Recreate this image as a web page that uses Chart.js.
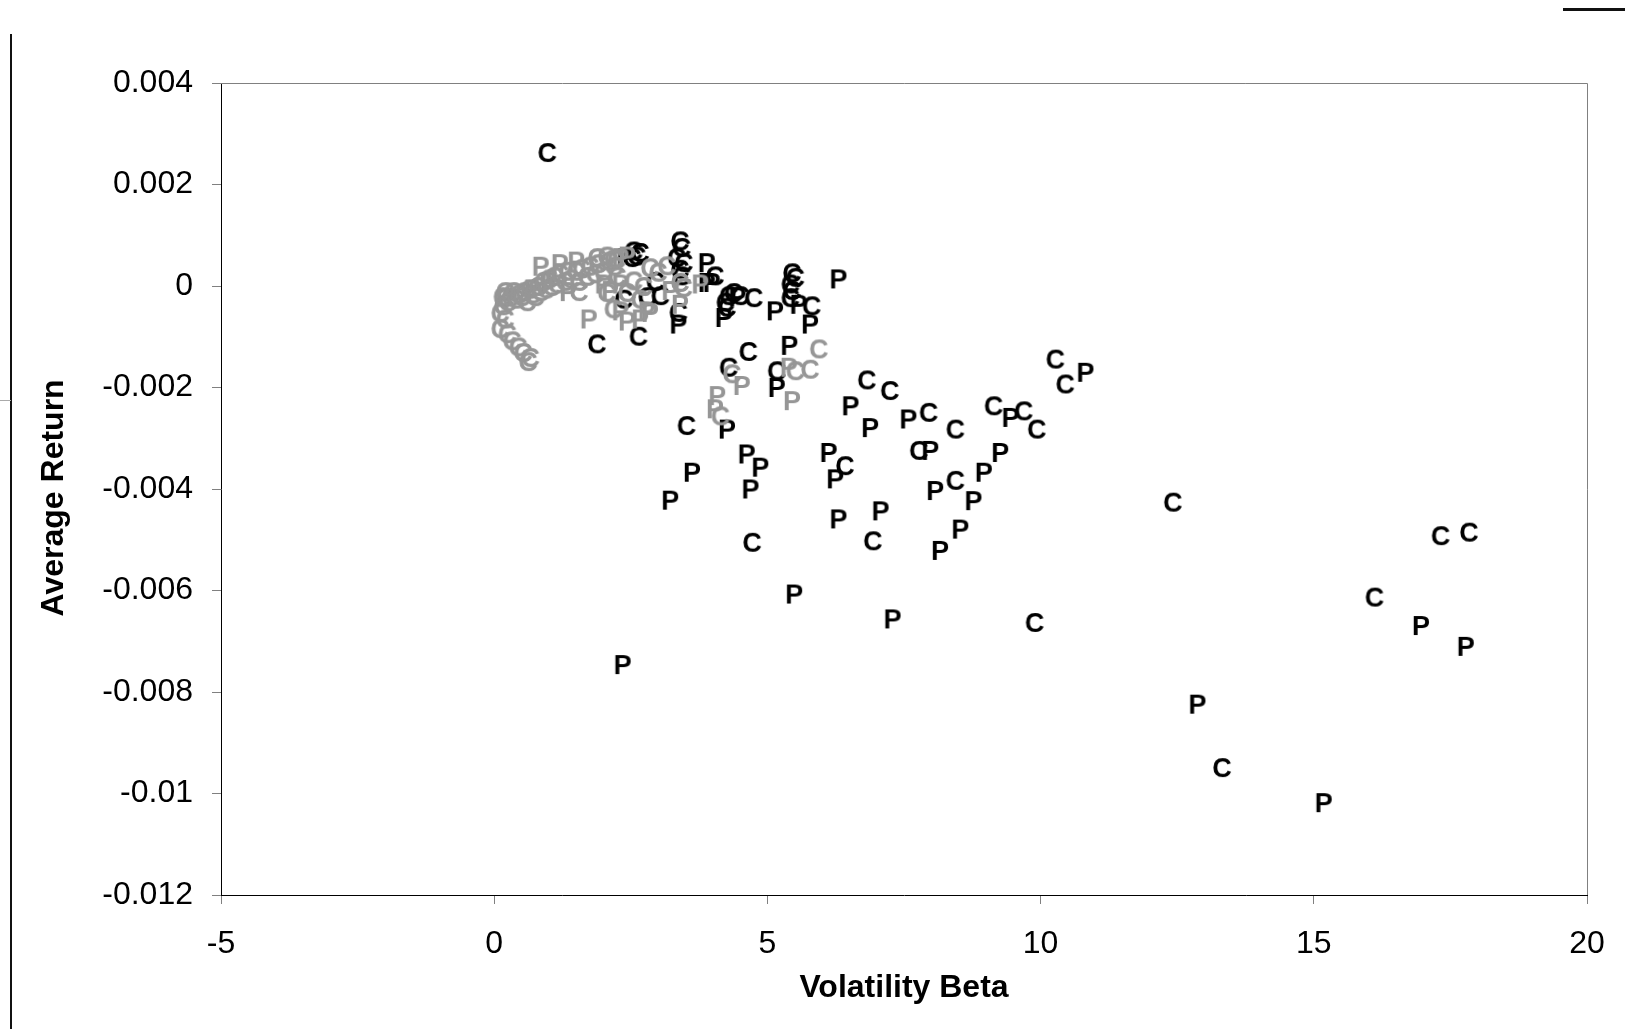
<!DOCTYPE html>
<html lang="en">
<head>
  <meta charset="UTF-8" />
  <title>Average Return vs Volatility Beta</title>
  <style>
    body { margin: 0; background: #fff; }
    #wrap { position: relative; width: 1628px; height: 1029px; overflow: hidden; background: #fff; }
    #chart { position: absolute; left: 0; top: 0; }
    .rule-left { position: absolute; left: 10px; top: 34px; width: 2px; height: 995px; background: #111; }
    .rule-stub { position: absolute; left: 0; top: 400px; width: 11px; height: 1px; background: #aaa; }
    .rule-top { position: absolute; left: 1563px; top: 8px; width: 62px; height: 3px; background: #111; }
  </style>
  <script src="https://cdn.jsdelivr.net/npm/chart.js"></script>
</head>
<body>
  <div id="wrap">
    <canvas id="chart" width="1628" height="1029"></canvas>
    <div class="rule-left"></div>
    <div class="rule-stub"></div>
    <div class="rule-top"></div>
  </div>
  <script>
    // axis ticks
    const xTicks = [-5, 0, 5, 10, 15, 20];
    const xTickLabels = ['-5', '0', '5', '10', '15', '20'];
    const yTicks = [-0.012, -0.01, -0.008, -0.006, -0.004, -0.002, 0, 0.002, 0.004];
    const yTickLabels = ['-0.012', '-0.01', '-0.008', '-0.006', '-0.004', '-0.002', '0', '0.002', '0.004'];

    // [volatility beta, average return]
    const callsBlack = [
      [0.97, 0.00264], [1.88, -0.00113], [2.64, -0.00098],
      [2.55, 0.0007], [2.61, 0.0006], [2.67, 0.00067], [2.52, 0.00057],
      [3.40, 0.0009], [3.43, 0.00077], [3.34, 0.00057], [3.47, 0.00047], [3.40, 0.00034], [3.43, 0.00021],
      [3.04, -0.00018], [2.37, -0.00025], [2.8, -0.0002], [2.95, 0.0001],
      [4.04, 0.00021], [3.37, -0.00051],
      [4.29, -0.00018], [4.38, -0.00012], [4.23, -0.00031], [4.26, -0.00041],
      [4.50, -0.00018], [4.75, -0.00022],
      [5.45, 0.00027], [5.51, 0.00018], [5.42, 0.00005], [5.45, -0.00008], [5.42, -0.00022],
      [5.81, -0.00038], [4.65, -0.00128], [4.29, -0.00159], [5.17, -0.00166],
      [3.52, -0.00274], [4.72, -0.00504],
      [6.82, -0.00184], [7.24, -0.00205], [7.95, -0.00248], [8.44, -0.00281], [7.77, -0.00323],
      [6.42, -0.00353], [6.93, -0.00501], [8.44, -0.00382], [9.14, -0.00235], [9.69, -0.00245],
      [9.93, -0.00281], [10.27, -0.00143], [10.45, -0.00192], [9.89, -0.00662],
      [12.42, -0.00425], [13.32, -0.00948], [16.11, -0.00612], [17.32, -0.00491], [17.84, -0.00484]
    ];
    const putsBlack = [
      [2.40, 0.00057], [3.89, 0.00047], [3.89, 0.00008], [3.98, 0.00008], [3.37, -0.00074],
      [4.20, -0.00061], [4.45, -0.0002], [5.14, -0.00048], [5.57, -0.00035], [5.78, -0.00074],
      [6.30, 0.00015], [5.40, -0.00116], [5.17, -0.00199], [4.26, -0.00281], [3.62, -0.00366],
      [3.22, -0.00421], [4.62, -0.0033], [4.87, -0.00356], [4.69, -0.00399], [6.52, -0.00235],
      [6.88, -0.00278], [7.58, -0.00261], [7.98, -0.00323], [6.12, -0.00327], [6.24, -0.00379],
      [6.30, -0.00458], [7.07, -0.00442], [8.07, -0.00402], [8.96, -0.00366], [9.26, -0.00327],
      [8.77, -0.00422], [8.53, -0.00478], [8.16, -0.0052], [9.45, -0.00258], [10.82, -0.00169],
      [12.87, -0.00823], [15.18, -0.01017], [16.96, -0.00668], [17.78, -0.00709],
      [5.49, -0.00606], [7.29, -0.00655], [2.35, -0.00745]
    ];
    const callsGrey = [
      [0.20, -0.00022], [0.16, -0.00038], [0.11, -0.00052], [0.20, -0.00064], [0.11, -0.00083],
      [0.24, -0.00093], [0.33, -0.00107], [0.44, -0.00119], [0.53, -0.0013], [0.66, -0.0014], [0.62, -0.00148],
      [0.15, -0.0002], [0.2, -0.0001], [0.25, -0.0003], [0.3, -0.0002], [0.35, -0.0001], [0.4, -0.00025],
      [0.45, -0.00015], [0.5, -0.0002], [0.55, -0.0001], [0.6, -0.0003], [0.65, -0.00005], [0.7, -0.00015],
      [0.75, -0.0002], [0.8, 0.0], [0.85, -0.0001], [0.9, 0.0001], [0.95, -0.00005], [1.0, 0.00015],
      [1.05, 0.0], [1.1, 0.0002], [1.15, 0.00005], [1.2, 0.00025], [1.3, 0.0001], [1.35, 0.0003],
      [1.4, 0.00015], [1.5, 0.0003], [1.55, 0.0001], [1.6, 0.00035], [1.7, 0.0002], [1.75, 0.0004],
      [1.85, 0.00025], [1.9, 0.00045], [2.0, 0.0003], [2.1, 0.0005], [2.2, 0.0004], [2.25, 0.0002],
      [1.88, 0.00057], [2.06, 0.0006], [2.24, 0.00054], [2.18, 0.00054],
      [2.85, 0.00037], [3.0, 0.00028], [3.16, 0.00041], [2.55, 0.00011], [2.73, 0.0],
      [3.40, 0.00008], [3.46, -0.00002], [2.67, -0.00025], [2.18, -0.00044], [2.43, -0.00012],
      [2.06, -0.00012], [1.55, -0.0001],
      [4.35, -0.00172], [5.51, -0.00166], [5.78, -0.00163], [5.94, -0.00123], [4.14, -0.00255]
    ];
    const putsGrey = [
      [0.85, 0.0004], [1.2, 0.00045], [1.5, 0.0005], [1.0, 0.0001], [1.35, -0.0001], [0.7, -0.00005],
      [1.73, -0.00064], [2.43, -0.00068], [2.67, -0.00064], [2.85, -0.00051], [2.12, -0.00008],
      [2.31, -0.00048], [2.43, 0.0006], [2.31, 0.00057], [3.22, -0.00008], [3.77, 0.00005],
      [3.40, -0.00035], [2.0, 0.00005], [2.31, 0.00005], [2.79, -0.00048],
      [4.08, -0.00215], [4.04, -0.00241], [4.53, -0.00195], [5.39, -0.00159], [5.45, -0.00225]
    ];

    const fontFamily = '"Liberation Sans", Arial, sans-serif';
    const black = '#000000';
    const grey = '#969696';

    // each point is drawn as a bold letter
    function letterSprite(letter, color) {
      const c = document.createElement('canvas');
      c.width = 30;
      c.height = 30;
      const g = c.getContext('2d');
      g.font = 'bold 27px ' + fontFamily;
      g.fillStyle = color;
      g.textAlign = 'center';
      g.textBaseline = 'alphabetic';
      g.fillText(letter, 15, 25);
      return c;
    }

    const toPoints = arr => arr.map(p => ({ x: p[0], y: p[1] }));

    function series(label, arr, letter, color) {
      return {
        label: label,
        data: toPoints(arr),
        pointStyle: letterSprite(letter, color),
        pointRadius: 10,
        backgroundColor: color,
        borderColor: color
      };
    }

    // top and right edges of the plot frame are grey
    const plotFrame = {
      id: 'plotFrame',
      afterDraw(chart) {
        const { ctx, chartArea: a } = chart;
        ctx.save();
        ctx.strokeStyle = '#808080';
        ctx.lineWidth = 1;
        ctx.beginPath();
        ctx.moveTo(a.left, Math.round(a.top) + 0.5);
        ctx.lineTo(Math.round(a.right) + 0.5, Math.round(a.top) + 0.5);
        ctx.lineTo(Math.round(a.right) + 0.5, a.bottom);
        ctx.stroke();
        ctx.restore();
      }
    };

    Chart.defaults.font.family = fontFamily;
    Chart.defaults.color = black;

    new Chart(document.getElementById('chart'), {
      type: 'scatter',
      data: {
        datasets: [
          series('C (grey)', callsGrey, 'C', grey),
          series('P (grey)', putsGrey, 'P', grey),
          series('C', callsBlack, 'C', black),
          series('P', putsBlack, 'P', black)
        ]
      },
      options: {
        responsive: false,
        animation: false,
        events: [],
        layout: { padding: { left: 0, top: 83, right: 41, bottom: 0 } },
        plugins: { legend: { display: false }, tooltip: { enabled: false } },
        scales: {
          x: {
            type: 'linear',
            min: -5,
            max: 20,
            afterBuildTicks: s => { s.ticks = xTicks.map(v => ({ value: v })); },
            afterFit: s => { s.height = 134; },
            grid: { drawOnChartArea: false, tickLength: 9, color: '#808080' },
            border: { color: '#000', width: 1 },
            ticks: {
              callback: (v, i) => xTickLabels[i],
              font: { size: 32 },
              color: black,
              padding: 21,
              maxRotation: 0
            },
            title: {
              display: true,
              text: 'Volatility Beta',
              font: { size: 32, weight: 'bold' },
              color: black,
              padding: { top: 0, bottom: 22 }
            }
          },
          y: {
            type: 'linear',
            min: -0.012,
            max: 0.004,
            afterBuildTicks: s => { s.ticks = yTicks.map(v => ({ value: v })); },
            afterFit: s => { s.width = 221; },
            grid: { drawOnChartArea: false, tickLength: 9, color: '#808080' },
            border: { color: '#000', width: 1 },
            ticks: {
              callback: (v, i) => yTickLabels[i],
              font: { size: 32 },
              color: black,
              padding: 19
            },
            title: {
              display: true,
              text: 'Average Return  ',
              font: { size: 32, weight: 'bold' },
              color: black,
              padding: { top: 35, bottom: 0 }
            }
          }
        }
      },
      plugins: [plotFrame]
    });
  </script>
</body>
</html>
